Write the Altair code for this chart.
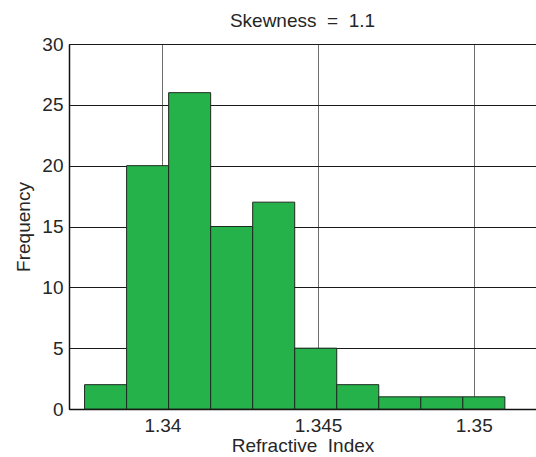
import altair as alt
import pandas as pd

# Histogram bins (refractive index) and their counts
bin_start = [1.3375, 1.33885, 1.3402, 1.34155, 1.3429, 1.34425, 1.3456, 1.34695, 1.3483, 1.34965]
bin_end = [1.33885, 1.3402, 1.34155, 1.3429, 1.34425, 1.3456, 1.34695, 1.3483, 1.34965, 1.351]
counts = [2, 20, 26, 15, 17, 5, 2, 1, 1, 1]

x_ticks = [1.34, 1.345, 1.35]
y_ticks = [0, 5, 10, 15, 20, 25, 30]

df = pd.DataFrame({"lo": bin_start, "hi": bin_end, "n": counts})

FONT = "Liberation Sans"
TEXT = "#262626"
FS = 19

bars = alt.Chart(df).mark_rect(
    fill="#25b24b", stroke="#1c2b1f", strokeWidth=1
).encode(
    x=alt.X(
        "lo:Q",
        scale=alt.Scale(domain=[1.337, 1.352], nice=False, zero=False),
        axis=alt.Axis(
            values=x_ticks, format="~g", title="Refractive\u00a0 Index",
            ticks=False, labelPadding=7, titlePadding=1,
            grid=True, gridColor="#6e6e6e", gridWidth=1,
            domainColor="#111111", domainWidth=1.5,
        ),
    ),
    x2="hi",
    y=alt.Y(
        "n:Q",
        scale=alt.Scale(domain=[0, 30], nice=False),
        axis=alt.Axis(
            values=y_ticks, title="Frequency",
            ticks=False, labelPadding=6, titlePadding=8,
            grid=True, gridColor="#1a1a1a", gridWidth=1,
            domainColor="#111111", domainWidth=1.5,
        ),
    ),
    y2=alt.datum(0),
).properties(
    width=467,
    height=365,
    title=alt.TitleParams(
        "Skewness\u00a0 =\u00a0 1.1", font=FONT, fontSize=FS, fontWeight="normal",
        color=TEXT, anchor="middle", offset=4,
    ),
)

chart = bars.configure_view(
    stroke="#111111", strokeWidth=1
).configure_axis(
    labelFont=FONT, labelFontSize=FS, labelColor=TEXT,
    titleFont=FONT, titleFontSize=FS, titleColor=TEXT, titleFontWeight="normal",
).properties(
    autosize="none",
    padding={"left": 69, "top": 44, "right": 0, "bottom": 48},
    background="white",
)

chart.save("out.html", embed_options={"renderer": "svg", "actions": False})
